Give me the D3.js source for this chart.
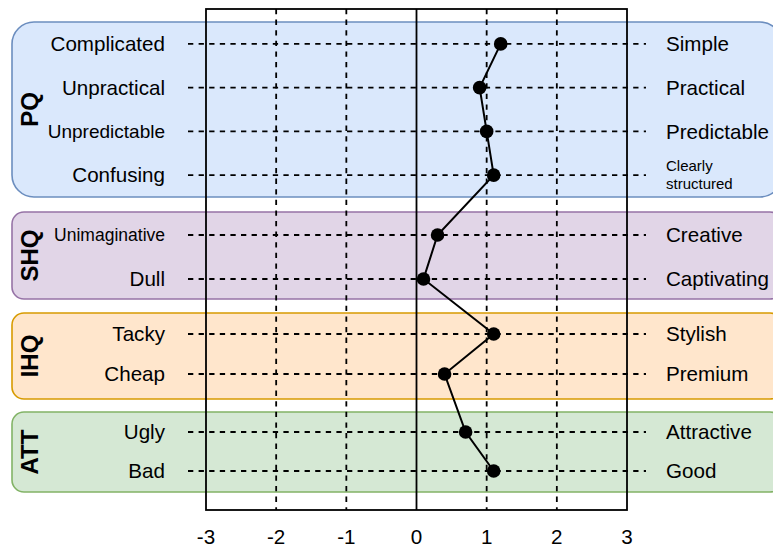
<!DOCTYPE html>
<html><head><meta charset="utf-8">
<script src="https://cdn.jsdelivr.net/npm/d3@7"></script>
<style>body{margin:0;background:#fff} svg{display:block}</style>
</head><body><svg id="c" width="773" height="548"></svg>
<script>
// ---- data ----
const groups = ["PQ", "SHQ", "IHQ", "ATT"];
const leftLabels = [
  ["Complicated", "Unpractical", "Unpredictable", "Confusing"],
  ["Unimaginative", "Dull"],
  ["Tacky", "Cheap"],
  ["Ugly", "Bad"]
];
const rightLabels = [
  ["Simple", "Practical", "Predictable", "Clearly structured"],
  ["Creative", "Captivating"],
  ["Stylish", "Premium"],
  ["Attractive", "Good"]
];
const values = [
  [1.2, 0.9, 1.0, 1.1],
  [0.3, 0.1],
  [1.1, 0.4],
  [0.7, 1.1]
];
const tickValues = [-3, -2, -1, 0, 1, 2, 3];

// ---- layout / style ----
const boxLayout = [
  {y0: 22,  y1: 197, rows: [22, 197],   r: 22, fill: "#dae8fc", stroke: "#6c8ebf"},
  {y0: 212, y1: 299, rows: [213, 301],  r: 12, fill: "#e1d5e7", stroke: "#9673a6"},
  {y0: 313, y1: 399, rows: [314, 394],  r: 12, fill: "#ffe6cc", stroke: "#d79b00"},
  {y0: 412, y1: 492, rows: [412.5, 490.5], r: 12, fill: "#d5e8d4", stroke: "#82b366"}
];
const labelSize = {"Unpredictable": 19, "Unimaginative": 17.5, "Clearly structured": 15};
const FONT = "'Liberation Sans', Arial, Helvetica, sans-serif";
const BASE = 20.6;

const svg = d3.select("#c");
const x = d3.scaleLinear().domain([-3, 3]).range([206, 627]);
const frameTop = 9, frameBottom = 510;

// boxes
svg.selectAll("rect.box").data(boxLayout).join("rect")
  .attr("class", "box")
  .attr("x", 12).attr("y", d => d.y0)
  .attr("width", 770).attr("height", d => d.y1 - d.y0)
  .attr("rx", d => d.r).attr("ry", d => d.r)
  .attr("fill", d => d.fill).attr("stroke", d => d.stroke).attr("stroke-width", 1.6);

// rows
const rows = [];
groups.forEach((g, gi) => {
  const b = boxLayout[gi];
  const yp = d3.scalePoint().domain(leftLabels[gi]).range(b.rows).padding(0.5);
  leftLabels[gi].forEach((l, i) => {
    rows.push({group: g, left: l, right: rightLabels[gi][i], value: values[gi][i], y: yp(l)});
  });
});

// group labels
groups.forEach((g, gi) => {
  const b = boxLayout[gi];
  svg.append("text")
    .attr("transform", `translate(37.5,${(b.y0 + b.y1) / 2}) rotate(-90)`)
    .attr("text-anchor", "middle")
    .attr("font-family", FONT).attr("font-weight", "bold").attr("font-size", 24)
    .attr("fill", "#000")
    .text(g);
});

// vertical grid lines
svg.selectAll("line.vg").data(tickValues.filter(t => Math.abs(t) !== 3)).join("line")
  .attr("class", "vg")
  .attr("x1", d => x(d)).attr("x2", d => x(d))
  .attr("y1", frameTop).attr("y2", frameBottom)
  .attr("stroke", "#000").attr("stroke-width", 1.8)
  .attr("stroke-dasharray", d => d === 0 ? null : "5.3,5.3");

// horizontal dashed row lines
svg.selectAll("line.hg").data(rows).join("line")
  .attr("class", "hg")
  .attr("x1", 188).attr("x2", 646)
  .attr("y1", d => d.y).attr("y2", d => d.y)
  .attr("stroke", "#000").attr("stroke-width", 1.8)
  .attr("stroke-dasharray", "5.3,5.3");

// frame
svg.append("rect")
  .attr("x", x(-3)).attr("y", frameTop)
  .attr("width", x(3) - x(-3)).attr("height", frameBottom - frameTop)
  .attr("fill", "none").attr("stroke", "#000").attr("stroke-width", 1.8);

// left labels
svg.selectAll("text.ll").data(rows).join("text")
  .attr("class", "ll")
  .attr("x", 165).attr("y", d => d.y)
  .attr("dy", "0.35em")
  .attr("text-anchor", "end")
  .attr("font-family", FONT)
  .attr("font-size", d => labelSize[d.left] || BASE)
  .attr("fill", "#000")
  .text(d => d.left);

// right labels
const rl = svg.selectAll("text.rl").data(rows).join("text")
  .attr("class", "rl")
  .attr("x", 666).attr("y", d => d.y)
  .attr("font-family", FONT)
  .attr("font-size", d => labelSize[d.right] || BASE)
  .attr("fill", "#000");
rl.each(function(d) {
  const t = d3.select(this);
  const words = d.right === "Clearly structured" ? ["Clearly", "structured"] : [d.right];
  const lh = 1.2;
  words.forEach((w, i) => {
    t.append("tspan")
      .attr("x", 666)
      .attr("dy", i === 0 ? `${0.35 - (words.length - 1) * lh / 2}em` : `${lh}em`)
      .text(w);
  });
});

// profile line
const line = d3.line().x(d => x(d.value)).y(d => d.y);
svg.append("path").datum(rows)
  .attr("d", line)
  .attr("fill", "none").attr("stroke", "#000").attr("stroke-width", 2);

svg.selectAll("circle.pt").data(rows).join("circle")
  .attr("class", "pt")
  .attr("cx", d => x(d.value)).attr("cy", d => d.y)
  .attr("r", 6.8).attr("fill", "#000");

// x axis tick labels
svg.selectAll("text.tk").data(tickValues).join("text")
  .attr("class", "tk")
  .attr("x", d => x(d)).attr("y", 544)
  .attr("text-anchor", "middle")
  .attr("font-family", FONT).attr("font-size", BASE)
  .attr("fill", "#000")
  .text(d => d);
</script>
</body></html>
